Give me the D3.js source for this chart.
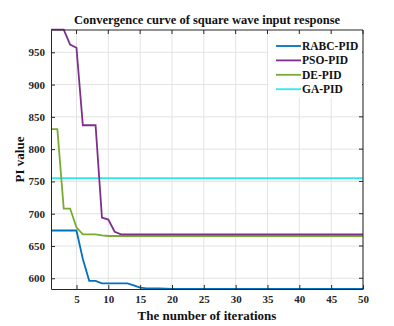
<!DOCTYPE html>
<html>
<head>
<meta charset="utf-8">
<script src="https://cdn.jsdelivr.net/npm/d3@7"></script>
<style>
  body { margin: 0; background: #fff; }
  svg text { font-family: "Liberation Serif", "Times New Roman", serif; font-weight: bold; }
</style>
</head>
<body>
<svg id="chart" width="394" height="326"></svg>
<script>
// Daten
const iterations = d3.range(1, 51);
const rabc = [674, 674, 674, 674, 674, 630, 596, 596, 592, 592, 592, 592, 592, 589, 585.5, 584.5, 584.5, 584.5, 584, 583.5,
  583.5, 583.5, 583.5, 583.5, 583.5, 583.5, 583.5, 583.5, 583.5, 583.5, 583.5, 583.5, 583.5, 583.5, 583.5, 583.5, 583.5, 583.5, 583.5, 583.5,
  583.5, 583.5, 583.5, 583.5, 583.5, 583.5, 583.5, 583.5, 583.5, 583.5];
const pso = [985, 985, 985, 962, 957, 837, 837, 837, 694, 691, 672, 668, 668, 668, 668, 668, 668, 668, 668, 668,
  668, 668, 668, 668, 668, 668, 668, 668, 668, 668, 668, 668, 668, 668, 668, 668, 668, 668, 668, 668,
  668, 668, 668, 668, 668, 668, 668, 668, 668, 668];
const de = [831, 831, 708, 708, 679, 668, 668, 668, 666.5, 665.5, 665.5, 665.5, 665.5, 665.5, 665.5, 665.5, 665.5, 665.5, 665.5, 665.5,
  665.5, 665.5, 665.5, 665.5, 665.5, 665.5, 665.5, 665.5, 665.5, 665.5, 665.5, 665.5, 665.5, 665.5, 665.5, 665.5, 665.5, 665.5, 665.5, 665.5,
  665.5, 665.5, 665.5, 665.5, 665.5, 665.5, 665.5, 665.5, 665.5, 665.5];
const ga = iterations.map(() => 755);
const seriesNames = ['RABC-PID', 'PSO-PID', 'DE-PID', 'GA-PID'];
const seriesColors = ['#0072BD', '#7E2F8E', '#77AC30', '#2EEAF0'];
const xTicks = [5, 10, 15, 20, 25, 30, 35, 40, 45, 50];
const yTicks = [600, 650, 700, 750, 800, 850, 900, 950];

const margin = { top: 30, right: 31, bottom: 37, left: 51 };
const W = 394, H = 326;
const iw = W - margin.left - margin.right;
const ih = H - margin.top - margin.bottom;

const svg = d3.select('#chart');
const g = svg.append('g').attr('transform', `translate(${margin.left},${margin.top})`);

const x = d3.scaleLinear().domain([1, 50]).range([0, iw]);
const y = d3.scaleLinear().domain([583.4, 984.5]).range([ih, 0]);

// Gitter
g.append('g').selectAll('line').data(xTicks).join('line')
  .attr('x1', d => x(d)).attr('x2', d => x(d)).attr('y1', 0).attr('y2', ih)
  .attr('stroke', '#e3e3e3').attr('stroke-width', 1);
g.append('g').selectAll('line').data(yTicks).join('line')
  .attr('y1', d => y(d)).attr('y2', d => y(d)).attr('x1', 0).attr('x2', iw)
  .attr('stroke', '#e3e3e3').attr('stroke-width', 1);

// Kurven
const allSeries = [rabc, pso, de, ga];
const line = d3.line().x((d, i) => x(iterations[i])).y(d => y(d));
// Zeichenreihenfolge: GA zuerst, dann DE, PSO, RABC
[3, 2, 1, 0].forEach(k => {
  g.append('path').datum(allSeries[k])
    .attr('fill', 'none')
    .attr('stroke', seriesColors[k])
    .attr('stroke-width', 1.8)
    .attr('d', line);
});

// Achsen (MATLAB-Stil, Ticks nach innen)
const axisColor = '#262626';
const xAxis = g.append('g').attr('transform', `translate(0,${ih})`)
  .call(d3.axisBottom(x).tickValues(xTicks).tickSizeInner(-4).tickSizeOuter(0).tickPadding(6));
const yAxis = g.append('g')
  .call(d3.axisLeft(y).tickValues(yTicks).tickSizeInner(-4).tickSizeOuter(0).tickPadding(6));
[xAxis, yAxis].forEach(a => {
  a.select('.domain').attr('stroke', axisColor);
  a.selectAll('.tick line').attr('stroke', axisColor);
  a.selectAll('.tick text').attr('fill', '#262626').attr('font-size', 11)
    .attr('font-family', '"Liberation Serif", serif').attr('font-weight', 'bold');
});
// obere und rechte Linie
g.append('line').attr('x1', 0).attr('x2', iw).attr('y1', 0).attr('y2', 0).attr('stroke', axisColor);
g.append('line').attr('x1', iw).attr('x2', iw).attr('y1', 0).attr('y2', ih).attr('stroke', axisColor);
g.append('g').selectAll('line').data(xTicks).join('line')
  .attr('x1', d => x(d)).attr('x2', d => x(d)).attr('y1', 0).attr('y2', 4).attr('stroke', axisColor);
g.append('g').selectAll('line').data(yTicks).join('line')
  .attr('y1', d => y(d)).attr('y2', d => y(d)).attr('x1', iw).attr('x2', iw - 4).attr('stroke', axisColor);

// Legende
const lg = g.append('g').attr('transform', `translate(${iw - 95},4)`);
lg.append('rect').attr('width', 94).attr('height', 64).attr('fill', '#fff');
seriesNames.forEach((name, i) => {
  const yy = 12 + i * 14.4;
  lg.append('line').attr('x1', 8).attr('x2', 33).attr('y1', yy).attr('y2', yy)
    .attr('stroke', seriesColors[i]).attr('stroke-width', 1.8);
  lg.append('text').attr('x', 34).attr('y', yy + 4).attr('font-size', 11.5)
    .attr('fill', '#111').text(name);
});

// Titel und Achsenbeschriftungen
svg.append('text').attr('x', margin.left + iw / 2).attr('y', 24)
  .attr('text-anchor', 'middle').attr('font-size', 12.5).attr('fill', '#111')
  .text('Convergence curve of square wave input response');
svg.append('text').attr('x', margin.left + iw / 2).attr('y', 320)
  .attr('text-anchor', 'middle').attr('font-size', 13).attr('fill', '#111')
  .text('The number of iterations');
svg.append('text').attr('transform', `translate(24,${margin.top + ih / 2}) rotate(-90)`)
  .attr('text-anchor', 'middle').attr('font-size', 13).attr('fill', '#111')
  .text('PI value');
</script>
</body>
</html>
